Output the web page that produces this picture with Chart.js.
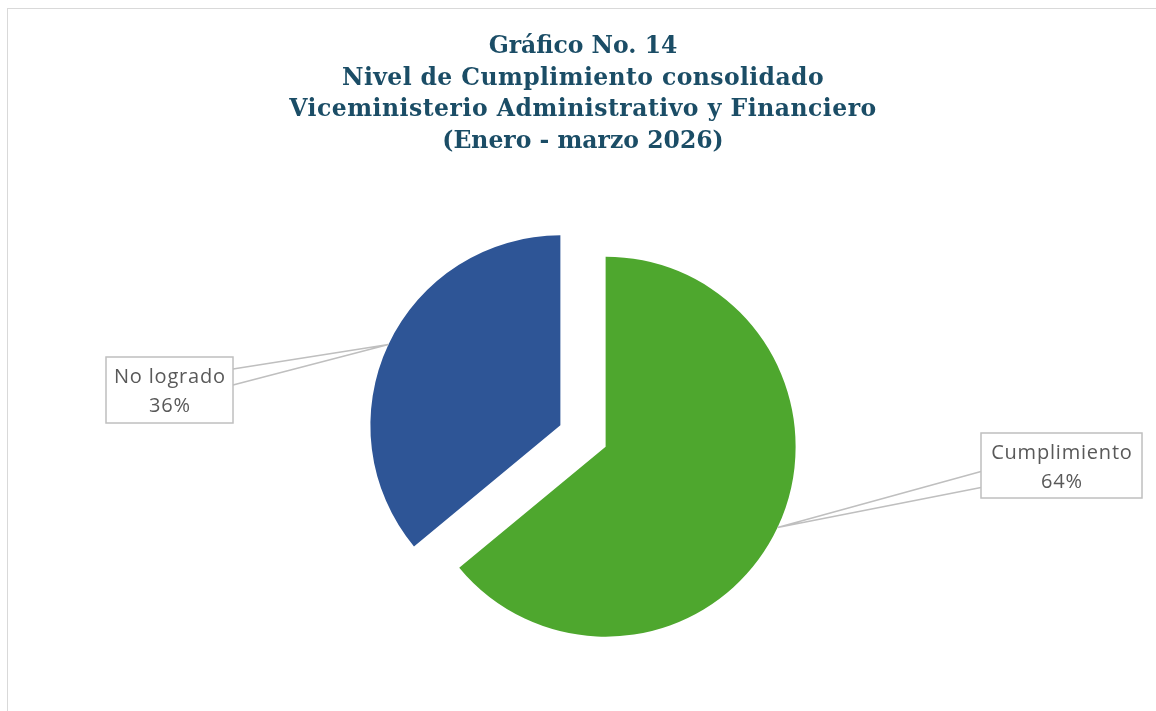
<!DOCTYPE html>
<html>
<head>
<meta charset="utf-8">
<script src="https://cdn.jsdelivr.net/npm/chart.js@4"></script>
<style>
  html, body { margin: 0; padding: 0; background: #fff; }
  #wrap { position: relative; width: 1156px; height: 711px; overflow: hidden; }
  #frame { position: absolute; left: 7px; top: 8px; width: 1200px; height: 800px; border: 1px solid #d9d9d9; box-sizing: border-box; }
  #title { position: absolute; left: 0; top: 30px; width: 1166px; text-align: center;
           font-family: "DejaVu Serif", serif; font-weight: bold; font-size: 23.5px; line-height: 31.5px; color: #1b4d66; }
  #title span { display: block; }
  canvas { position: absolute; left: 0; top: 0; }
</style>
</head>
<body>
<div id="wrap">
  <div id="frame"></div>
  <canvas id="chart" width="1156" height="711"></canvas>
  <div id="title">
    <span>Gráfico No. 14</span>
    <span style="letter-spacing:0.4px">Nivel de Cumplimiento consolidado</span>
    <span style="letter-spacing:0.5px">Viceministerio Administrativo y Financiero</span>
    <span>(Enero - marzo 2026)</span>
  </div>
</div>
<script>
// datos del grafico
const categorias = ['Cumplimiento', 'No logrado'];
const porcentajes = [64, 36];
const colores = ['#4ea72e', '#2e5596'];

// cajas de etiquetas (centro y tamaño)
const cajas = [
  { cx: 1061.5, cy: 465.5, w: 161, h: 65 },
  { cx: 169.5, cy: 390, w: 127, h: 66 }
];
const separacion = 25;

// separa cada porcion a lo largo de su bisectriz
const explodePlugin = {
  id: 'explode',
  afterDatasetUpdate(chart, args) {
    args.meta.data.forEach(arc => {
      const mid = (arc.startAngle + arc.endAngle) / 2;
      arc.x += Math.cos(mid) * separacion;
      arc.y += Math.sin(mid) * separacion;
    });
  }
};

const calloutPlugin = {
  id: 'callouts',
  afterDatasetsDraw(chart) {
    const ctx = chart.ctx;
    const meta = chart.getDatasetMeta(0);
    meta.data.forEach((arc, i) => {
      const mid = (arc.startAngle + arc.endAngle) / 2;
      const ax = arc.x + Math.cos(mid) * arc.outerRadius;
      const ay = arc.y + Math.sin(mid) * arc.outerRadius;
      const b = cajas[i];
      const left = b.cx - b.w / 2, top = b.cy - b.h / 2;
      const ex = ax < b.cx ? left : left + b.w;
      const bc = b.cy + (ay < b.cy ? -13 : 14);
      ctx.save();
      ctx.strokeStyle = '#bfbfbf';
      ctx.lineWidth = 1.5;
      ctx.beginPath();
      ctx.moveTo(ex, bc - 8);
      ctx.lineTo(ax, ay);
      ctx.lineTo(ex, bc + 8);
      ctx.stroke();
      ctx.fillStyle = '#ffffff';
      ctx.fillRect(left, top, b.w, b.h);
      ctx.strokeRect(left, top, b.w, b.h);
      ctx.fillStyle = '#595959';
      ctx.font = '20px "Open Sans"';
      ctx.letterSpacing = '0.8px';
      ctx.textAlign = 'center';
      ctx.textBaseline = 'alphabetic';
      ctx.fillText(categorias[i], b.cx + 0.4, b.cy - 7);
      ctx.fillText(porcentajes[i] + '%', b.cx + 0.4, b.cy + 22);
      ctx.restore();
    });
  }
};

new Chart(document.getElementById('chart'), {
  type: 'pie',
  data: {
    labels: categorias,
    datasets: [{
      data: porcentajes,
      backgroundColor: colores,
      borderWidth: 0,
      radius: 190
    }]
  },
  options: {
    responsive: false,
    animation: false,
    layout: { padding: { left: 10, right: 0, top: 200, bottom: 39 } },
    plugins: {
      legend: { display: false },
      tooltip: { enabled: false }
    }
  },
  plugins: [explodePlugin, calloutPlugin]
});
</script>
</body>
</html>
